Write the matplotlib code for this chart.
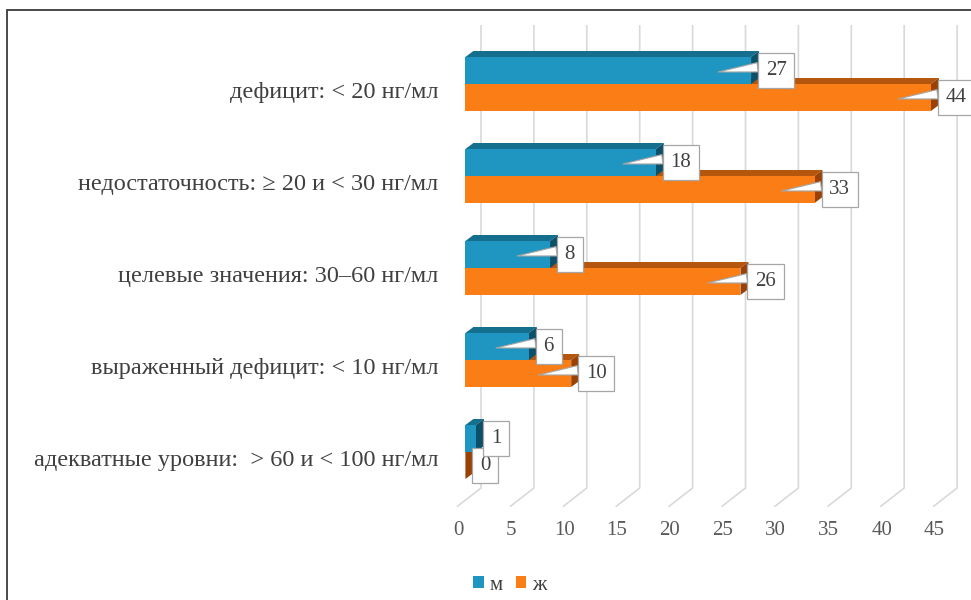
import matplotlib
matplotlib.use("Agg")
import matplotlib.pyplot as plt
from matplotlib.patches import Polygon, Rectangle, Patch
import matplotlib.transforms as mtransforms

# ---------------- data ----------------
categories = [
    "дефицит: < 20 нг/мл",
    "недостаточность: ≥ 20 и < 30 нг/мл",
    "целевые значения: 30–60 нг/мл",
    "выраженный дефицит: < 10 нг/мл",
    "адекватные уровни:  > 60 и < 100 нг/мл",
]
male = [27, 18, 8, 6, 1]
female = [44, 33, 26, 10, 0]
series_names = ["м", "ж"]
x_ticks = [0, 5, 10, 15, 20, 25, 30, 35, 40, 45]

# ---------------- style ----------------
plt.rcParams["font.family"] = ["Liberation Serif", "DejaVu Serif"]
W, H, DPI = 971, 600, 100
X_PX = 10.58          # pixels per value unit
Y_PX = 92.0           # pixels per category step
BAR_H = 27 / Y_PX     # height of one bar (category units)
DX = 8 / X_PX         # 3D depth offset (x)
DY = -6 / Y_PX        # 3D depth offset (y, up)
BACK_X = 15.6 / X_PX  # back wall offset
FLOOR_X = -8.4 / X_PX # floor front offset

blue = dict(front="#1F96C1", top="#146E8E", side="#0C4F68")
orange = dict(front="#FA7D16", top="#B5560E", side="#9A4206")
grid_c = "#d9d9d9"

fig = plt.figure(figsize=(W / DPI, H / DPI), dpi=DPI)
ax_left, ax_right, ax_top, ax_bottom = 445, 971, 25, 507
ax = fig.add_axes([ax_left / W, 1 - ax_bottom / H,
                   (ax_right - ax_left) / W, (ax_bottom - ax_top) / H])
x0_px = 465.4
ax.set_xlim((ax_left - x0_px) / X_PX, (ax_right - x0_px) / X_PX)
b0_px = 84.0
ax.set_ylim((ax_bottom - b0_px) / Y_PX, (ax_top - b0_px) / Y_PX)

for s in ax.spines.values():
    s.set_visible(False)

# back wall + floor grid lines
y_grid_top = (ax_top - b0_px) / Y_PX
y_wall_bot = (488 - b0_px) / Y_PX
y_floor = (506.7 - b0_px) / Y_PX
for v in x_ticks:
    ax.plot([v + BACK_X, v + BACK_X, v + FLOOR_X],
            [y_grid_top, y_wall_bot, y_floor],
            color=grid_c, lw=1.2, zorder=1, clip_on=False,
            solid_capstyle="butt")


def bar3d(y_top, v, col, z):
    ax.barh(y_top, v, height=BAR_H, left=0, align="edge",
            color=col["front"], edgecolor="none", zorder=z + 0.2)
    top = Polygon([(0, y_top), (DX, y_top + DY), (v + DX, y_top + DY), (v, y_top)],
                  closed=True, fc=col["top"], ec="none", zorder=z)
    side = Polygon([(v, y_top), (v + DX, y_top + DY),
                    (v + DX, y_top + BAR_H + DY), (v, y_top + BAR_H)],
                   closed=True, fc=col["side"], ec="none", zorder=z + 0.1)
    ax.add_patch(top)
    ax.add_patch(side)


LBL_FS = 15
PAD = 0.37


def label(v, yc, z):
    pad_px = PAD * LBL_FS * DPI / 72
    kw = dict(xy=(v - 3.1, yc + 1.5 / Y_PX),
              xytext=(v + (7 + pad_px) / X_PX, yc), textcoords="data",
              ha="left", va="center", fontsize=LBL_FS, color="#404040",
              bbox=dict(boxstyle="square,pad=%.2f" % PAD, fc="white",
                        ec="#a6a6a6", lw=0.9),
              zorder=z, annotation_clip=False)
    if v >= 3:
        kw["arrowprops"] = dict(arrowstyle="wedge,tail_width=0.45,shrink_factor=0.5",
                                fc="white", ec="#a6a6a6", lw=0.8,
                                relpos=(0.0, 0.72), shrinkA=0, shrinkB=0)
    ax.annotate("%d" % v, **kw)


for i, (m, f) in enumerate(zip(male, female)):
    base = 10 * (5 - i)
    bar3d(i, f, orange, base + 1)
    bar3d(i - BAR_H, m, blue, base + 2)

for i, (m, f) in enumerate(zip(male, female)):
    label(f, i + BAR_H / 2, 100)
    label(m, i - BAR_H / 2, 101)

# axis ticks
ax.set_xticks(x_ticks)
ax.set_xticklabels([str(t) for t in x_ticks])
ax.tick_params(axis="x", length=0, pad=10, labelsize=15, labelcolor="#595959")
offset = mtransforms.ScaledTranslation(-7 / DPI, 0, fig.dpi_scale_trans)
for lab in ax.get_xticklabels():
    lab.set_transform(lab.get_transform() + offset)

ax.set_yticks([i + 6 / Y_PX for i in range(len(categories))])
ax.set_yticklabels(categories)
ax.tick_params(axis="y", length=0, pad=5, labelsize=17.5, labelcolor="#404040")

# legend
handles = [Patch(fc=blue["front"], ec="none"), Patch(fc=orange["front"], ec="none")]
fig.legend(handles, series_names, loc="center",
           bbox_to_anchor=(510 / W, 1 - 585 / H), ncol=2, frameon=False,
           handlelength=0.5, handleheight=0.5, handletextpad=0.3,
           columnspacing=0.6, fontsize=15, labelcolor="#404040")

# outer frame
fig.add_artist(Rectangle((7 / W, -0.05), 1.2, 1.05 - 10 / H, fill=False,
                         ec="#3a3a3a", lw=1.3, transform=fig.transFigure))

fig.savefig("out.png", dpi=DPI)
